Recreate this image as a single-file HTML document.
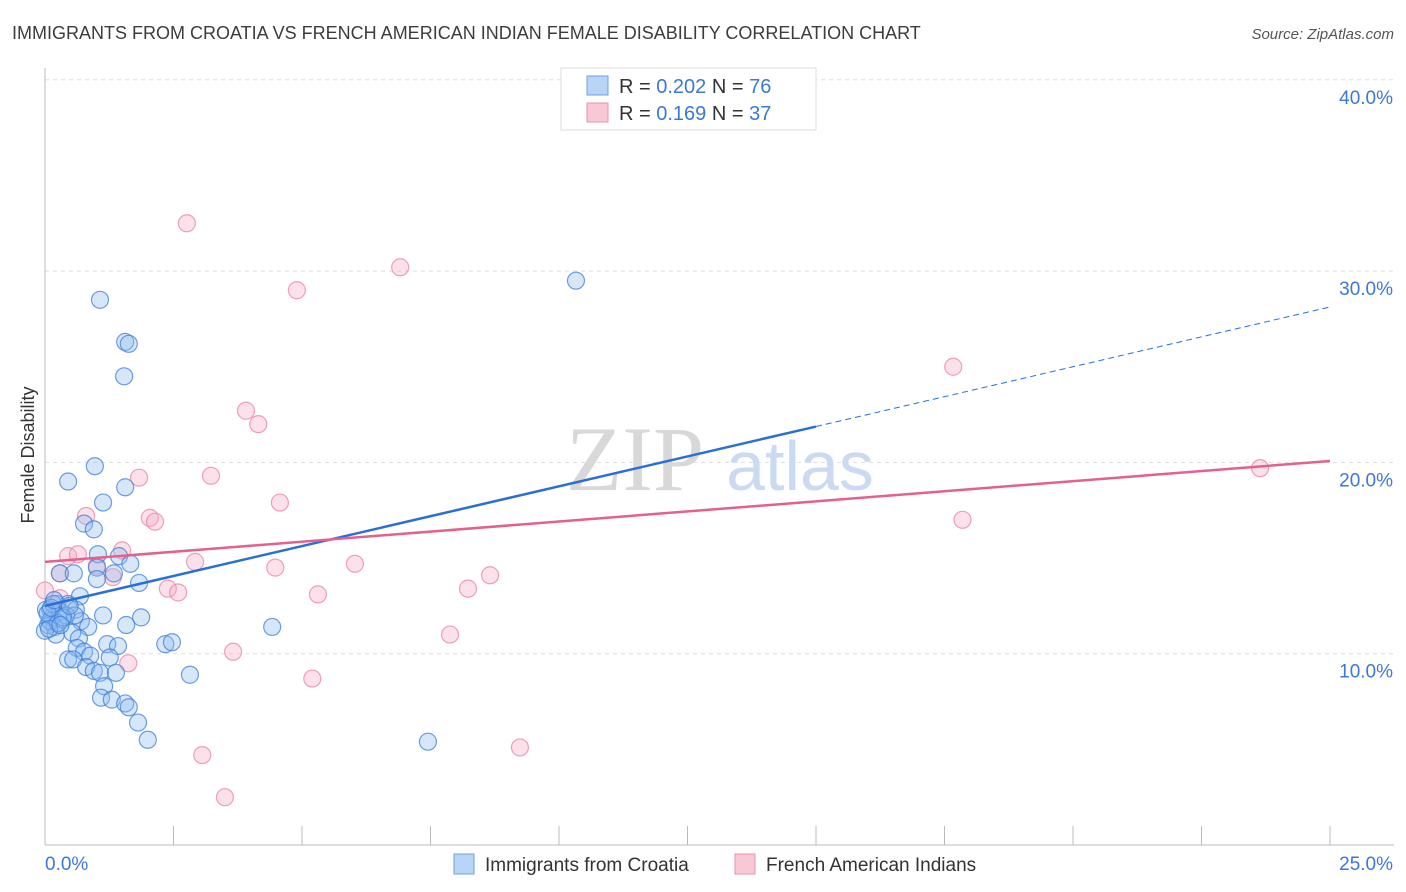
<!DOCTYPE html>
<html><head><meta charset="utf-8"><style>
body{margin:0;background:#fff;font-family:"Liberation Sans",sans-serif;}
svg{display:block}
</style></head><body>
<svg width="1406" height="892" viewBox="0 0 1406 892">
<text x="12" y="39" font-size="18" fill="#3c3c3c">IMMIGRANTS FROM CROATIA VS FRENCH AMERICAN INDIAN FEMALE DISABILITY CORRELATION CHART</text>
<text x="1394" y="39" font-size="15" fill="#555" font-style="italic" text-anchor="end">Source: ZipAtlas.com</text>
<g id="grid"></g>
<text x="635" y="490" font-size="92" fill="#d8d8d8" font-family="Liberation Serif,serif" text-anchor="middle">ZIP</text>
<text x="800" y="490" font-size="70" fill="#c9daf2" text-anchor="middle">atlas</text>
<g id="pts"></g>
<g id="lines"></g>
<text x="34" y="455" font-size="18" fill="#333" transform="rotate(-90 34 455)" text-anchor="middle">Female Disability</text>
<g>
<rect x="561" y="68" width="255" height="62" fill="#fff" stroke="#ddd"/>
<rect x="587" y="76" width="21" height="19" fill="#b8d4f7" stroke="#6f9fe0"/>
<rect x="587" y="103" width="21" height="19" fill="#f9c8d6" stroke="#ec91ad"/>
<text x="619" y="93" font-size="20" fill="#333">R = <tspan fill="#3b78d8">0.202</tspan>   N = <tspan fill="#3b78d8">76</tspan></text>
<text x="619" y="120" font-size="20" fill="#333">R =  <tspan fill="#3b78d8">0.169</tspan>   N = <tspan fill="#3b78d8">37</tspan></text>
</g>
<g>
<rect x="454" y="854" width="20" height="20" fill="#b8d4f7" stroke="#6f9fe0"/>
<text x="485" y="871" font-size="19" fill="#333">Immigrants from Croatia</text>
<rect x="735" y="854" width="20" height="20" fill="#f9c8d6" stroke="#ec91ad"/>
<text x="766" y="871" font-size="19" fill="#333">French American Indians</text>
</g>
</svg>
<script>
const xTicksLabels=["0.0%","25.0%"];
const yTicks=[10,20,30,40];
const blueX=[1.07,10.33,1.56,1.63,1.54,0.97,0.45,1.56,1.13,0.76,0.95,1.03,1.44,1.66,1.01,0.29,0.56,1.34,1.01,1.83,0.68,0.23,0.45,0.60,1.13,1.87,0.10,0.14,0.33,0.70,0.84,1.58,0.19,0.06,4.42,0.53,0.21,0.66,1.21,1.42,2.34,2.47,0.62,0.76,0.88,0.45,0.55,1.26,0.80,0.95,1.07,1.38,2.82,1.15,1.09,1.30,1.56,1.63,1.81,2.00,7.45,0.02,0.10,0.29,0.41,0.58,0.16,0.0,0.05,0.12,0.25,0.35,0.48,0.08,0.18,0.30];
const blueY=[28.5,29.5,26.3,26.2,24.5,19.8,19.0,18.7,17.9,16.8,16.5,15.2,15.1,14.7,14.5,14.2,14.2,14.2,13.9,13.7,13.0,12.6,12.6,12.3,12.0,11.9,12.3,11.9,11.8,11.7,11.4,11.5,11.4,11.5,11.4,11.1,11.0,10.8,10.5,10.4,10.5,10.6,10.3,10.1,9.9,9.7,9.7,9.8,9.3,9.1,9.0,9.0,8.9,8.3,7.7,7.6,7.4,7.2,6.4,5.5,5.4,12.3,11.7,12.2,12.0,12.0,12.6,11.2,12.1,12.4,11.6,11.9,12.5,11.3,12.8,11.5];
const pinkX=[2.76,6.91,4.90,17.67,3.91,4.15,1.83,3.23,4.57,2.04,2.14,17.85,23.64,0.80,0.45,0.64,1.50,1.01,2.92,6.03,4.48,1.32,0.29,8.66,2.39,2.59,8.23,5.31,0.29,0.0,7.88,3.66,1.62,5.20,3.06,9.24,3.50];
const pinkY=[32.5,30.2,29.0,25.0,22.7,22.0,19.2,19.3,17.9,17.1,16.9,17.0,19.7,17.2,15.1,15.2,15.4,14.6,14.8,14.7,14.5,14.0,14.2,14.1,13.4,13.2,13.4,13.1,12.9,13.3,11.0,10.1,9.5,8.7,4.7,5.1,2.5];
const blueTrend=[12.5,0.625,15.0];
const pinkTrend=[14.8,0.211];
const NS="http://www.w3.org/2000/svg";
const X0=45,X1=1330,Y0=845,PY=19.13;
const sx=v=>X0+(X1-X0)*v/25, sy=v=>Y0-v*PY;
function mk(t,a,p){const e=document.createElementNS(NS,t);for(const k in a)e.setAttribute(k,a[k]);p.appendChild(e);return e;}
const g=document.getElementById('grid');
yTicks.forEach(t=>{
 const l=mk('line',{x1:X0,x2:1394,y1:sy(t),y2:sy(t),stroke:'#ddd','stroke-dasharray':'4,4'},g);
 
 
 const tx=mk('text',{x:1393,y:sy(t)+24,'font-size':19,fill:'#3b78d8','text-anchor':'end'},g);
 tx.textContent=t.toFixed(1)+'%';
 
 
});
const ax=mk('line',{x1:X0,x2:1394,y1:Y0,y2:Y0,stroke:'#bbb'},g);


const ay=mk('line',{x1:X0,x2:X0,y1:68,y2:Y0,stroke:'#bbb'},g);


for(let i=1;i<=10;i++){const v=i*2.5;const tk=mk('line',{x1:sx(v),x2:sx(v),y1:Y0,y2:Y0-19,stroke:'#bbb'},g);
 
 }
[[0,'start',45],[25,'end',1393]].forEach((d,i)=>{const t=mk('text',{x:d[2],y:870,'font-size':19,fill:'#3b78d8','text-anchor':d[1]},g);t.textContent=xTicksLabels[i];
 
 });
const p=document.getElementById('pts');
pinkX.forEach((v,i)=>{const c=mk('circle',{cx:sx(v),cy:sy(pinkY[i]),r:8.5,fill:'rgba(245,170,195,0.35)',stroke:'rgba(232,130,165,0.75)','stroke-width':1.2},p);
 
 });
blueX.forEach((v,i)=>{const c=mk('circle',{cx:sx(v),cy:sy(blueY[i]),r:8.5,fill:'rgba(140,185,240,0.35)',stroke:'rgba(60,125,215,0.75)','stroke-width':1.2},p);
 
 });
const L=document.getElementById('lines');
const b1=mk('line',{x1:sx(0),y1:sy(blueTrend[0]),x2:sx(blueTrend[2]),y2:sy(blueTrend[0]+blueTrend[1]*blueTrend[2]),stroke:'#2a6fd6','stroke-width':2.5},L);


const b2=mk('line',{x1:sx(blueTrend[2]),y1:sy(blueTrend[0]+blueTrend[1]*blueTrend[2]),x2:sx(25),y2:sy(blueTrend[0]+blueTrend[1]*25),stroke:'#2a6fd6','stroke-width':1,'stroke-dasharray':'6,4'},L);


const p1=mk('line',{x1:sx(0),y1:sy(pinkTrend[0]),x2:sx(25),y2:sy(pinkTrend[0]+pinkTrend[1]*25),stroke:'#e5608e','stroke-width':2.5},L);


</script>
</body></html>
